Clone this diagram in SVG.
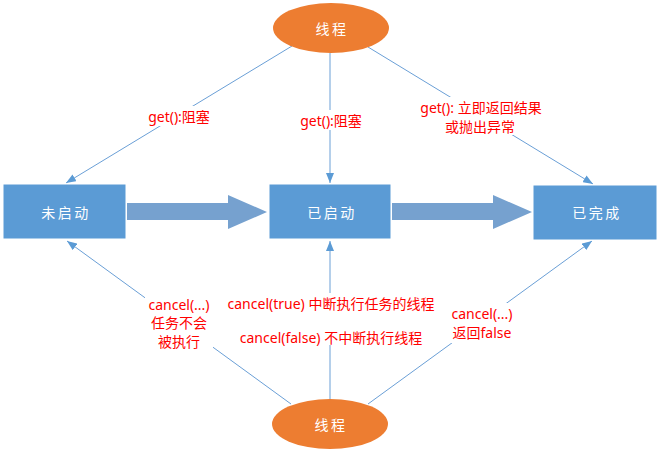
<svg xmlns="http://www.w3.org/2000/svg" width="661" height="454" viewBox="0 0 661 454">
  <style>
    .box { fill: #5b9bd5; stroke: #ffffff; stroke-width: 1; }
    .thread { fill: #ed7d31; stroke: none; }
    .ntext { fill: #ffffff; font-family: "Noto Sans CJK SC", "Noto Sans", sans-serif; font-size: 14px; letter-spacing: 2.5px; text-anchor: middle; dominant-baseline: central; }
    .link { stroke: #6a9fd6; stroke-width: 1; fill: none; marker-end: url(#head); }
    .big { fill: #76a1cf; }
    .lbl { fill: #ff0000; font-family: "Noto Sans", "Noto Sans CJK SC", sans-serif; font-size: 14px; text-anchor: middle; dominant-baseline: central; }
    .bg { fill: #ffffff; }
  </style>
  <defs>
    <marker id="head" viewBox="0 0 10 8" refX="10" refY="4" markerWidth="10" markerHeight="8" markerUnits="userSpaceOnUse" orient="auto">
      <path d="M0,0 L10,4 L0,8 Z" fill="#5b9bd5"/>
    </marker>
  </defs>

  <!-- connectors -->
  <g id="connectors">
    <line class="link" x1="292" y1="46" x2="66" y2="183"/>
    <line class="link" x1="330" y1="53" x2="330" y2="183"/>
    <line class="link" x1="368" y1="47" x2="593" y2="184"/>
    <line class="link" x1="291" y1="404" x2="67" y2="241"/>
    <line class="link" x1="330" y1="399" x2="330" y2="241"/>
    <line class="link" x1="368" y1="404" x2="592" y2="241"/>
    <!-- thick state transitions -->
    <path class="big" d="M127,203 L228,203 L228,195 L267,212 L228,229 L228,220 L127,220 Z"/>
    <path class="big" d="M392,203 L493,203 L493,195 L532,212 L493,229 L493,220 L392,220 Z"/>
  </g>

  <!-- labels -->
  <g id="labels">
    <rect class="bg" x="145" y="106" width="68" height="20"/>
    <text class="lbl" x="179" y="116">get():阻塞</text>
    <rect class="bg" x="297" y="110" width="68" height="20"/>
    <text class="lbl" x="331" y="120">get():阻塞</text>
    <rect class="bg" x="416" y="97" width="130" height="38"/>
    <text class="lbl" x="481" y="107">get(): 立即返回结果</text>
    <text class="lbl" x="480" y="126">或抛出异常</text>

    <rect class="bg" x="145" y="293" width="68" height="58"/>
    <text class="lbl" x="179" y="304">cancel(...)</text>
    <text class="lbl" x="179" y="322.5">任务不会</text>
    <text class="lbl" x="179" y="341">被执行</text>

    <rect class="bg" x="222" y="293" width="218" height="52"/>
    <text class="lbl" x="331" y="303">cancel(true) 中断执行任务的线程</text>
    <text class="lbl" x="331" y="337">cancel(false) 不中断执行线程</text>

    <rect class="bg" x="448" y="303" width="68" height="40"/>
    <text class="lbl" x="482" y="313">cancel(...)</text>
    <text class="lbl" x="482" y="332">返回false</text>
  </g>

  <!-- nodes -->
  <g id="thread-top">
    <ellipse class="thread" cx="331" cy="28" rx="58" ry="25"/>
    <text class="ntext" x="332" y="28">线程</text>
  </g>
  <g id="thread-bottom">
    <ellipse class="thread" cx="330" cy="424" rx="58" ry="25"/>
    <text class="ntext" x="331" y="424">线程</text>
  </g>
  <g id="not-started">
    <rect class="box" x="3" y="184" width="123" height="55"/>
    <text class="ntext" x="66" y="212">未启动</text>
  </g>
  <g id="started">
    <rect class="box" x="269" y="184" width="122" height="55"/>
    <text class="ntext" x="332" y="212">已启动</text>
  </g>
  <g id="completed">
    <rect class="box" x="533" y="185" width="124" height="55"/>
    <text class="ntext" x="597" y="212">已完成</text>
  </g>
</svg>
